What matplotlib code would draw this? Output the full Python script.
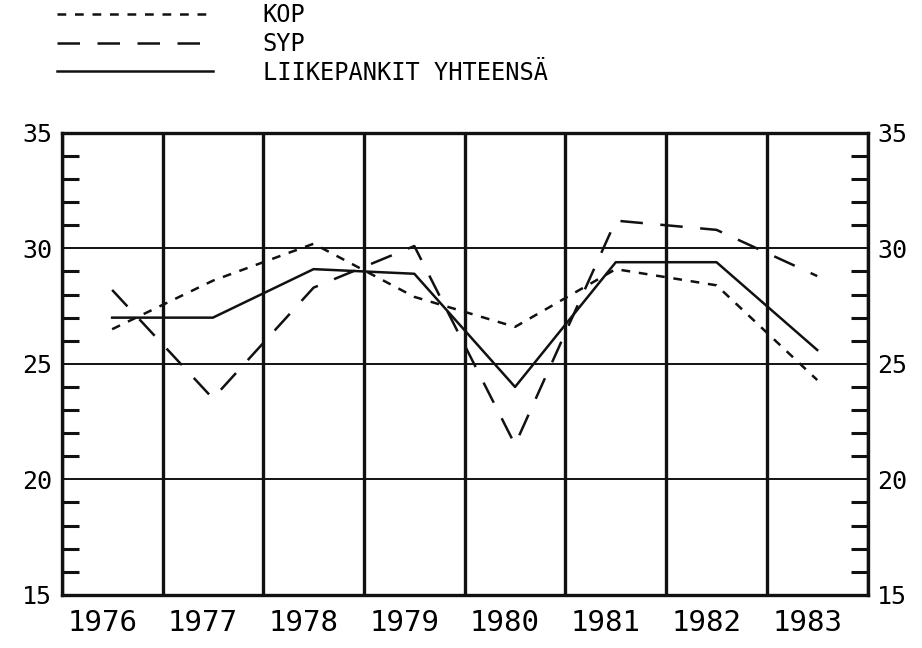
import matplotlib
matplotlib.use("Agg")
import matplotlib.pyplot as plt
import numpy as np

plt.rcParams['font.family'] = ['DejaVu Sans Mono', 'DejaVu Sans']

years = [1976, 1977, 1978, 1979, 1980, 1981, 1982, 1983]
kop = [26.5, 28.6, 30.2, 27.9, 26.6, 29.1, 28.4, 24.3]
syp = [28.2, 23.5, 28.3, 30.1, 21.5, 31.2, 30.8, 28.8]
liikepankit = [27.0, 27.0, 29.1, 28.9, 24.0, 29.4, 29.4, 25.6]
labels = ['KOP', 'SYP', 'LIIKEPANKIT YHTEENSÄ']

fig = plt.figure(figsize=(9.22, 6.48), dpi=100)
ax = fig.add_axes([0.067, 0.082, 0.874, 0.713])

x = np.arange(len(years)) + 0.5
ax.plot(x, kop, color='#111111', lw=1.8, linestyle=(0, (3.5, 3.5)), label=labels[0])
ax.plot(x, syp, color='#111111', lw=1.8, linestyle=(0, (9, 7)), label=labels[1])
ax.plot(x, liikepankit, color='#111111', lw=1.8, label=labels[2])

ax.set_xlim(0, len(years))
ax.set_ylim(15, 35)

# year bands: thick vertical lines, labels near middle of each band
ax.set_xticks(np.arange(len(years) + 1))
ax.set_xticklabels([])
ax.set_xticks(np.arange(len(years)) + 0.4, minor=True)
ax.set_xticklabels([str(y) for y in years], minor=True, fontsize=21)
ax.tick_params(axis='x', which='both', length=0, pad=10)
ax.grid(axis='x', which='major', color='#111111', lw=2.4)

ax.set_yticks([15, 20, 25, 30, 35])
ax.set_yticks(np.arange(15, 36), minor=True)
ax.tick_params(axis='y', which='major', length=0, labelsize=18, pad=7,
               left=True, right=True, labelleft=True, labelright=True)
ax.tick_params(axis='y', which='minor', direction='in', length=12, width=2.2,
               left=True, right=True, color='#111111')
ax.grid(axis='y', which='major', color='#111111', lw=1.4)

for s in ax.spines.values():
    s.set_linewidth(2.4)
    s.set_color('#111111')

ax.legend(loc='upper left', bbox_to_anchor=(0.062, 0.995), bbox_transform=fig.transFigure,
          frameon=False, fontsize=17, handlelength=6.6, handletextpad=2.1,
          labelspacing=0.2, borderaxespad=0, borderpad=0)

fig.savefig('out.png', dpi=100)
